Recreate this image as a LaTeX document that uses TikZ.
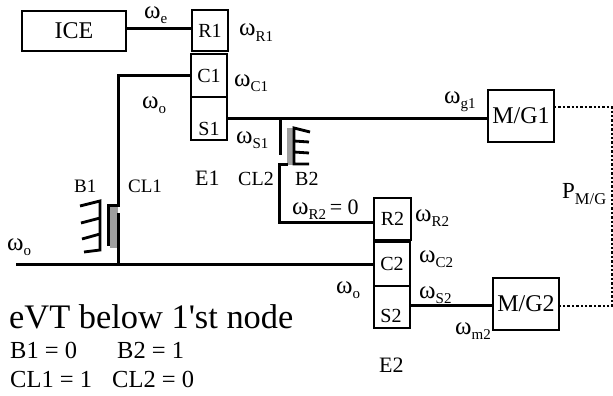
\documentclass[tikz,border=0pt]{standalone}
\usepackage{fontspec}
\newfontfamily\plainf{Liberation Serif}
\newcommand{\fs}[1]{\fontsize{#1}{#1}\selectfont}
\newcommand{\wsub}[1]{{\fs{25}ω}\raisebox{-5.5pt}{\fs{15}#1}}
\begin{document}
\begin{tikzpicture}[x=1pt,y=-1pt,
  blk/.style={draw,line width=1.6pt,inner sep=0pt,outer sep=0pt,anchor=north west,font=\plainf\fs{20}},
  shaft/.style={line width=3pt},
  elec/.style={line width=2.4pt,dash pattern=on 2.4pt off 2pt},
  plate/.style={line width=2.8pt},
  tick/.style={line width=2.8pt},
  lbl/.style={inner sep=0pt,anchor=base west,font=\plainf\fs{19}}]
\useasboundingbox (0,0) rectangle (613,396);
% boxes
\node[blk,minimum width=104pt,minimum height=40pt,font=\plainf\fs{24}] (ICE) at (22,11) {ICE};
\node[blk,minimum width=36pt,minimum height=41pt] (R1) at (192,10) {R1};
\node[blk,minimum width=36pt,minimum height=43pt] (C1) at (191,54) {C1};
\node[blk,minimum width=36pt,minimum height=43pt] (S1) at (191,97) {};
\node[lbl,anchor=base,font=\plainf\fs{20}] (S1t) at (209,135) {S1};
\node[blk,minimum width=66pt,minimum height=52pt,font=\plainf\fs{24}] (MG1) at (488,90) {M/G1};
\node[blk,minimum width=37pt,minimum height=42pt] (R2) at (374,198) {R2};
\node[blk,minimum width=36pt,minimum height=44pt] (C2) at (374,242) {C2};
\node[blk,minimum width=36pt,minimum height=42pt] (S2) at (374,286) {};
\node[lbl,anchor=base,font=\plainf\fs{20}] (S2t) at (391,322) {S2};
\node[blk,minimum width=66pt,minimum height=52pt,font=\plainf\fs{24}] (MG2) at (493,278) {M/G2};
% named junctions
\coordinate (a1) at (126,29);
\coordinate (a2) at (192,29);
\coordinate (c1in) at (191,76);
\coordinate (c1c) at (118,76);
\coordinate (cl1top) at (118,205);
\coordinate (cl1step) at (108,205);
\coordinate (cl1end) at (108,246);
\coordinate (cl1low) at (118,213);
\coordinate (shaftL) at (16,264);
\coordinate (shaftJ) at (118,264);
\coordinate (s1out) at (227,118);
\coordinate (mg1in) at (488,118);
\coordinate (j2) at (280,118);
\coordinate (cl2end) at (280,155);
\coordinate (cl2st) at (288,164);
\coordinate (cl2c) at (279,164);
\coordinate (cl2d) at (279,222);
\coordinate (r2in) at (374,222);
\coordinate (c2in) at (374,264);
\coordinate (s2out) at (410,305);
\coordinate (mg2in) at (493,305);
\coordinate (p1) at (554,107);
\coordinate (p2) at (612,107);
\coordinate (p3) at (612,306);
\coordinate (p4) at (559,306);
% brake pads
\fill[gray!75] (110,207) rectangle (118,248);
\fill[gray!75] (287,128) rectangle (294,165);
% shafts
\draw[shaft] (a1) -- (a2);
\draw[shaft] (c1in) -- (c1c) -- (cl1top) -- (cl1step) -- (cl1end);
\draw[shaft] (cl1low) -- (shaftJ);
\draw[shaft] (shaftL) -- (c2in);
\draw[shaft] (s1out) -- (mg1in);
\draw[shaft] (j2) -- (cl2end);
\draw[shaft] (cl2st) -- (cl2c) -- (cl2d) -- (r2in);
\draw[shaft] (s2out) -- (mg2in);
\draw[elec] (p1) -- (p2) -- (p3) -- (p4);
% grounds
\draw[plate] (80,206) -- (100,201) -- (100,250) -- (84,252);
\draw[tick] (100,218) -- (81,223);
\draw[tick] (100,234) -- (82,239);
\draw[plate] (310,132) -- (294,128) -- (294,164) -- (309,164);
\draw[tick] (294,141) -- (309,142);
\draw[tick] (294,152) -- (309,153);
% labels
\node[lbl] (le) at (144,18.5) {\wsub{e}};
\node[lbl] (lr1) at (239,36) {\wsub{R1}};
\node[lbl] (lc1) at (234,86) {\wsub{C1}};
\node[lbl] (lo1) at (142,108) {\wsub{o}};
\node[lbl] (ls1) at (236,143) {\wsub{S1}};
\node[lbl,font=\plainf\fs{22}] (lE1) at (195,185) {E1};
\node[lbl] (lB1) at (74,192) {B1};
\node[lbl] (lCL1) at (128,192) {CL1};
\node[lbl,font=\plainf\fs{20}] (lCL2) at (238,185) {CL2};
\node[lbl,font=\plainf\fs{20}] (lB2) at (295,185) {B2};
\node[lbl] (lr20) at (292,214) {\wsub{R2}{\fs{22}\,= 0}};
\node[lbl] (lr2) at (415,221) {\wsub{R2}};
\node[lbl] (lc2) at (419,262) {\wsub{C2}};
\node[lbl] (ls2) at (419,298) {\wsub{S2}};
\node[lbl] (lo3) at (336,293) {\wsub{o}};
\node[lbl] (lm2) at (455,334) {\wsub{m2}};
\node[lbl] (lg1) at (444,103) {\wsub{g1}};
\node[lbl] (lo2) at (7,250) {\wsub{o}};
\node[lbl,font=\plainf\fs{23}] (lp) at (562,198) {P\raisebox{-6pt}{\fs{16.5}M/G}};
\node[lbl,font=\plainf\fs{22}] (lE2) at (379,372) {E2};
\node[lbl,font=\plainf\fs{34.4}] (t1) at (9,328) {eVT below 1'st node};
\node[lbl,font=\plainf\fs{24.5}] (t2) at (10,358) {B1 = 0};
\node[lbl,font=\plainf\fs{24.5}] (t3) at (117,358) {B2 = 1};
\node[lbl,font=\plainf\fs{24.5}] (t4) at (10,387) {CL1 = 1};
\node[lbl,font=\plainf\fs{24.5}] (t5) at (112,387) {CL2 = 0};
\end{tikzpicture}
\end{document}
